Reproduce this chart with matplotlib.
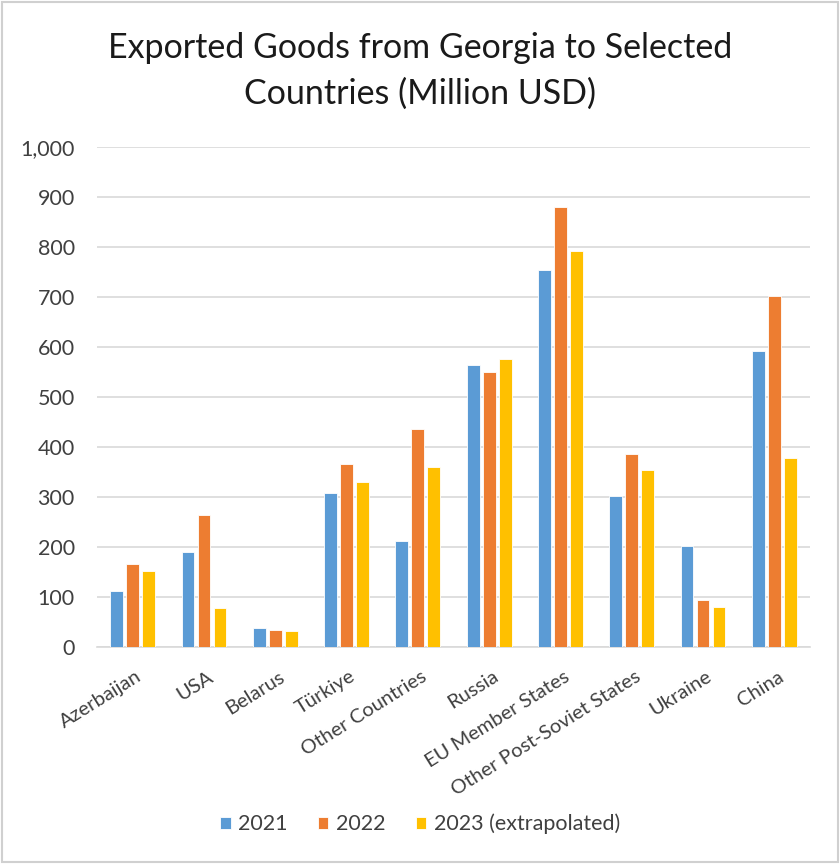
import numpy as np
import matplotlib.pyplot as plt
from matplotlib.patches import Rectangle

# Données (millions USD)
countries = ['Azerbaijan', 'USA', 'Belarus', 'Türkiye', 'Other Countries', 'Russia',
             'EU Member States', 'Other Post-Soviet States', 'Ukraine', 'China']
exports_2021 = [113, 190, 39, 308, 212, 564, 754, 302, 202, 592]
exports_2022 = [167, 264, 35, 367, 436, 551, 881, 387, 95, 702]
exports_2023 = [152, 78, 32, 331, 361, 577, 792, 354, 80, 378]
series_labels = ['2021', '2022', '2023 (extrapolated)']
colors = ['#5B9BD5', '#ED7D31', '#FFC000']

plt.rcParams['font.family'] = ['Lato', 'DejaVu Sans']

fig = plt.figure(figsize=(8.4, 8.64), dpi=100)
ax = fig.add_axes([97 / 840, 1 - 647 / 864, 713 / 840, 500 / 864])

x = np.arange(len(countries))
step = 0.224
width = 0.18
for i, (vals, lab, col) in enumerate(zip([exports_2021, exports_2022, exports_2023], series_labels, colors)):
    ax.bar(x + (i - 1) * step, vals, width, color=col, label=lab,
           edgecolor='white', linewidth=0.6, zorder=3)

ax.set_xlim(-0.5, len(countries) - 0.5)
ax.set_ylim(0, 1000)
ax.set_yticks(range(0, 1001, 100))
ax.set_yticklabels([f'{v:,}' for v in range(0, 1001, 100)], fontsize=15.5, color='#404040')
ax.set_xticks(x + 0.04)
ax.set_xticklabels(countries, rotation=32, ha='right', rotation_mode='anchor',
                   fontsize=14.5, color='#404040')
ax.tick_params(axis='both', length=0)
ax.tick_params(axis='y', pad=16)
ax.tick_params(axis='x', pad=15)
ax.grid(axis='y', color='#D9D9D9', linewidth=1.2, zorder=0)
for s in ['top', 'right', 'left']:
    ax.spines[s].set_visible(False)
ax.spines['bottom'].set_color('#D9D9D9')
ax.spines['bottom'].set_linewidth(1.2)

fig.text(0.5, 1 - 48 / 864, 'Exported Goods from Georgia to Selected', ha='center', va='center',
         fontsize=24.5, color='#1a1a1a')
fig.text(0.5, 1 - 94 / 864, 'Countries (Million USD)', ha='center', va='center',
         fontsize=24.5, color='#1a1a1a')

fig.legend(loc='center', bbox_to_anchor=(0.5, 1 - 824 / 864), ncol=3, frameon=False,
           fontsize=15.5, handlelength=0.5, handleheight=0.5, columnspacing=1.4,
           handletextpad=0.35, labelcolor='#404040')

# Cadre gris autour du graphique
fig.patches.append(Rectangle((2 / 840, 2 / 864), 836 / 840, 860 / 864, transform=fig.transFigure,
                             fill=False, edgecolor='#D0D0D0', linewidth=1.5))

fig.savefig('out.png', dpi=100, facecolor='white')
